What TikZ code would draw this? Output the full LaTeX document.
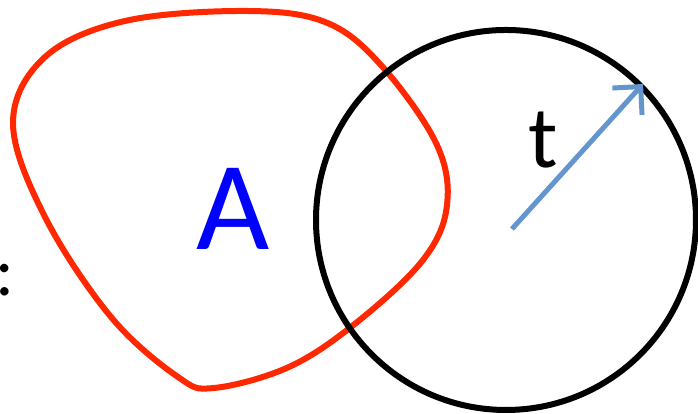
\documentclass[tikz,border=0pt]{standalone}
\usepackage{fontspec}
\setmainfont{Carlito}
\usepackage{tikz}
\usepackage{xcolor}
\usetikzlibrary{arrows.meta}
\definecolor{blobred}{RGB}{255,40,0}
\definecolor{arrowblue}{RGB}{100,150,205}

\begin{document}
\begin{tikzpicture}[x=1cm,y=1cm]
\useasboundingbox (0,0) rectangle (6.98,4.14);
\draw[line width=0.06cm,color=blobred] plot[smooth cycle,tension=0.6] coordinates {(2.45,4.03) (3.25,3.92) (3.80,3.50) (4.36,2.71) (4.47,2.09) (4.23,1.54) (3.56,0.91) (2.89,0.47) (2.14,0.26) (1.78,0.37) (1.11,0.97) (0.45,1.97) (0.13,2.91) (0.45,3.57) (1.25,3.93)};
\draw[line width=0.06cm] (5.06,1.94) circle (1.90);
\coordinate (centre) at (5.12,1.85);
\coordinate (rim) at (6.43,3.30);
\draw[line width=0.05cm,color=arrowblue,-{Straight Barb[length=2mm,width=4mm]}] (centre) -- (rim);
\node[anchor=base,inner sep=0pt,font=\fontsize{36}{40}\selectfont,color=blue] (setA) at (2.33,1.64) {A};
\node[anchor=base,inner sep=0pt,font=\fontsize{25}{28}\selectfont] (radius) at (5.43,2.46) {t};
\node[anchor=base,inner sep=0pt,font=\fontsize{20}{24}\selectfont] (colon) at (0.05,1.18) {:};
\end{tikzpicture}
\end{document}
